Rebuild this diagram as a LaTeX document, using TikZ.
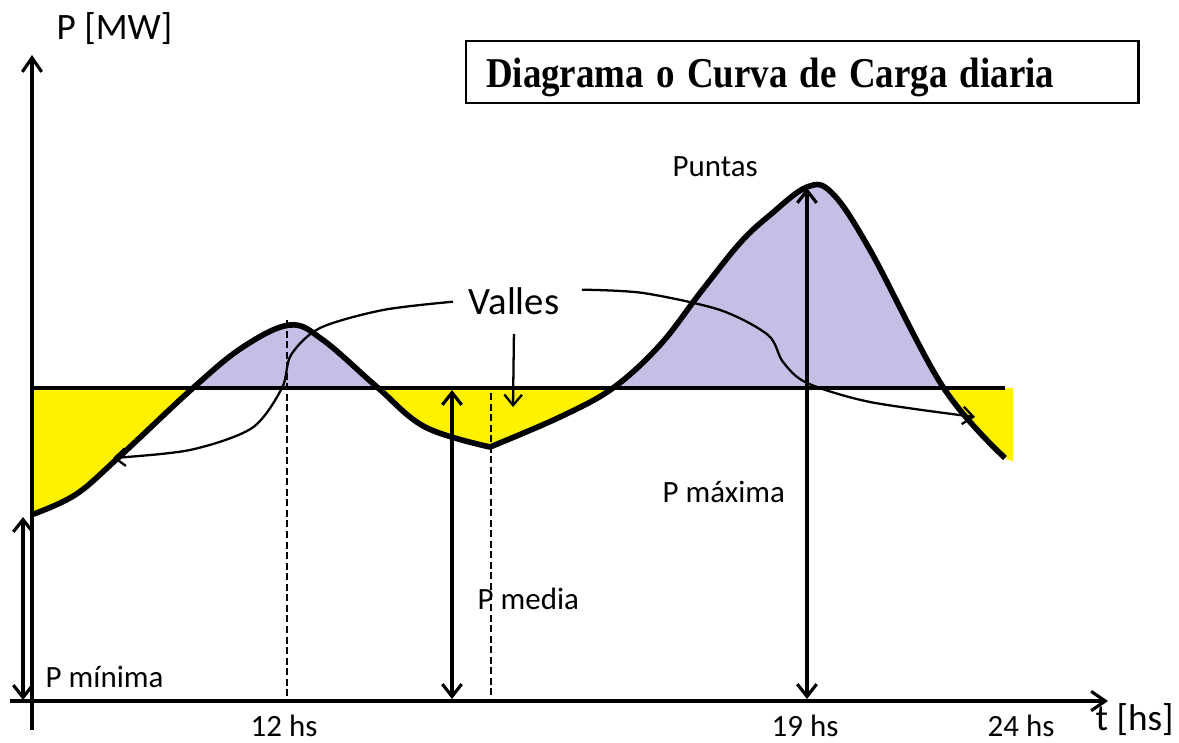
\documentclass[tikz,border=0pt]{standalone}
\usepackage{fontspec}
\usepackage{graphicx}
\setmainfont{Carlito}
\newfontfamily\titlefont{Liberation Serif}
\usetikzlibrary{arrows.meta}

\definecolor{peakfill}{RGB}{197,191,229}
\definecolor{valleyfill}{RGB}{255,242,0}

% daily load curve, in pixel units of the picture
\newcommand{\loadcurve}{plot[smooth,tension=0.6] coordinates {(31,515) (75,495) (118,458) (193,388) (243,347) (290,325) (323,340) (377,387) (425,427) (490,447)}
  -- plot[smooth,tension=0.6] coordinates {(490,447) (560,417) (613,388) (660,345) (700,293) (740,243) (770,215) (807,187) (832,193) (870,250) (943,387) (1005,458)}}

\begin{document}
\begin{tikzpicture}[x=0.01cm,y=-0.01cm,
    axis/.style={line width=0.9pt,-{Straight Barb[length=4pt,width=5.5pt]}},
    load/.style={line width=1.6pt,line join=round},
    mean/.style={line width=1.2pt},
    guide/.style={line width=0.35pt,dash pattern=on 2pt off 1pt},
    span/.style={line width=0.9pt,{Straight Barb[length=3.5pt,width=5.5pt]}-{Straight Barb[length=3.5pt,width=5.5pt]}},
    pointer/.style={line width=0.65pt,-{Straight Barb[length=3pt,width=5pt]}},
    lbl/.style={inner sep=0pt,anchor=base west,font=\fontsize{8.8pt}{10pt}\selectfont},
    biglbl/.style={lbl,font=\fontsize{10.6pt}{12pt}\selectfont},
  ]
  \useasboundingbox (0,0) rectangle (1179,743);
  % axes ends
  \coordinate (ybot) at (32,730);
  \coordinate (ytop) at (32,55);
  \coordinate (xleft) at (10,701);
  \coordinate (xright) at (1108,701);
  % mean power line
  \coordinate (med0) at (32,388);
  \coordinate (med1) at (1005,388);
  %
  \begin{scope}
    \clip (31,0) rectangle (1013,388);
    \fill[peakfill] \loadcurve -- (1013,462) -- (1013,388) -- (31,388) -- cycle;
  \end{scope}
  \begin{scope}
    \clip (31,388) rectangle (1013,743);
    \fill[valleyfill] \loadcurve -- (1013,462) -- (1013,388) -- (31,388) -- cycle;
  \end{scope}
  %
  \coordinate (g12top) at (287,320);
  \coordinate (g12bot) at (287,701);
  \coordinate (gvtop) at (491,393);
  \coordinate (gvbot) at (491,701);
  \draw[guide] (g12top) -- (g12bot);
  \draw[guide] (gvtop) -- (gvbot);
  \draw[mean] (med0) -- (med1);
  \draw[load] \loadcurve;
  %
  \coordinate (mintop) at (23,517);
  \coordinate (minbot) at (23,700);
  \coordinate (medtop) at (452,390);
  \coordinate (medbot) at (452,699);
  \coordinate (maxtop) at (807,188);
  \coordinate (maxbot) at (807,699);
  \draw[span] (mintop) -- (minbot);
  \draw[span] (medtop) -- (medbot);
  \draw[span] (maxtop) -- (maxbot);
  \draw[axis] (ybot) -- (ytop);
  \draw[axis] (xleft) -- (xright);
  %
  \node[biglbl] (pmw) at (56,40) {P [MW]};
  \node[biglbl] (thr) at (1095,730) {t [hs]};
  \node[lbl] (h12) at (250,736) {12 hs};
  \node[lbl] (h19) at (771,736) {19 hs};
  \node[lbl] (h24) at (987,736) {24 hs};
  \node[lbl] (pmin) at (45,687) {P mínima};
  \node[lbl] (pmed) at (477,609) {P media};
  \node[lbl] (pmax) at (662,502) {P máxima};
  \node[lbl] (puntas) at (672,177) {Puntas};
  \node[lbl,font=\fontsize{11pt}{13pt}\selectfont] (valles) at (468,315) {Valles};
  %
  \node[draw,line width=0.6pt,anchor=base west,inner xsep=0.2cm,inner ysep=0pt,
    text width=6.32cm,text height=0.47cm,text depth=0.15cm,align=left,
    font=\titlefont\bfseries\fontsize{10.5pt}{13pt}\selectfont] (title) at (465,88)
    {\scalebox{1}[1.15]{Diagrama o Curva de Carga diaria}};
  %
  \coordinate (lefttip) at (113,458);
  \coordinate (righttip) at (975,417);
  \coordinate (downtip) at (513,407);
  \draw[pointer] plot[smooth] coordinates {([xshift=-0.15cm]valles.west) (383,310) (320,328) (291,355) (282,388) (252,428) (190,450) (lefttip)};
  \draw[pointer] plot[smooth] coordinates {([xshift=0.22cm,yshift=0.12cm]valles.east) (643,293) (720,310) (768,335) (783,362) (807,383) (870,402) (righttip)};
  \draw[pointer] ([yshift=-0.18cm]valles.south) -- (downtip);
\end{tikzpicture}
\end{document}
